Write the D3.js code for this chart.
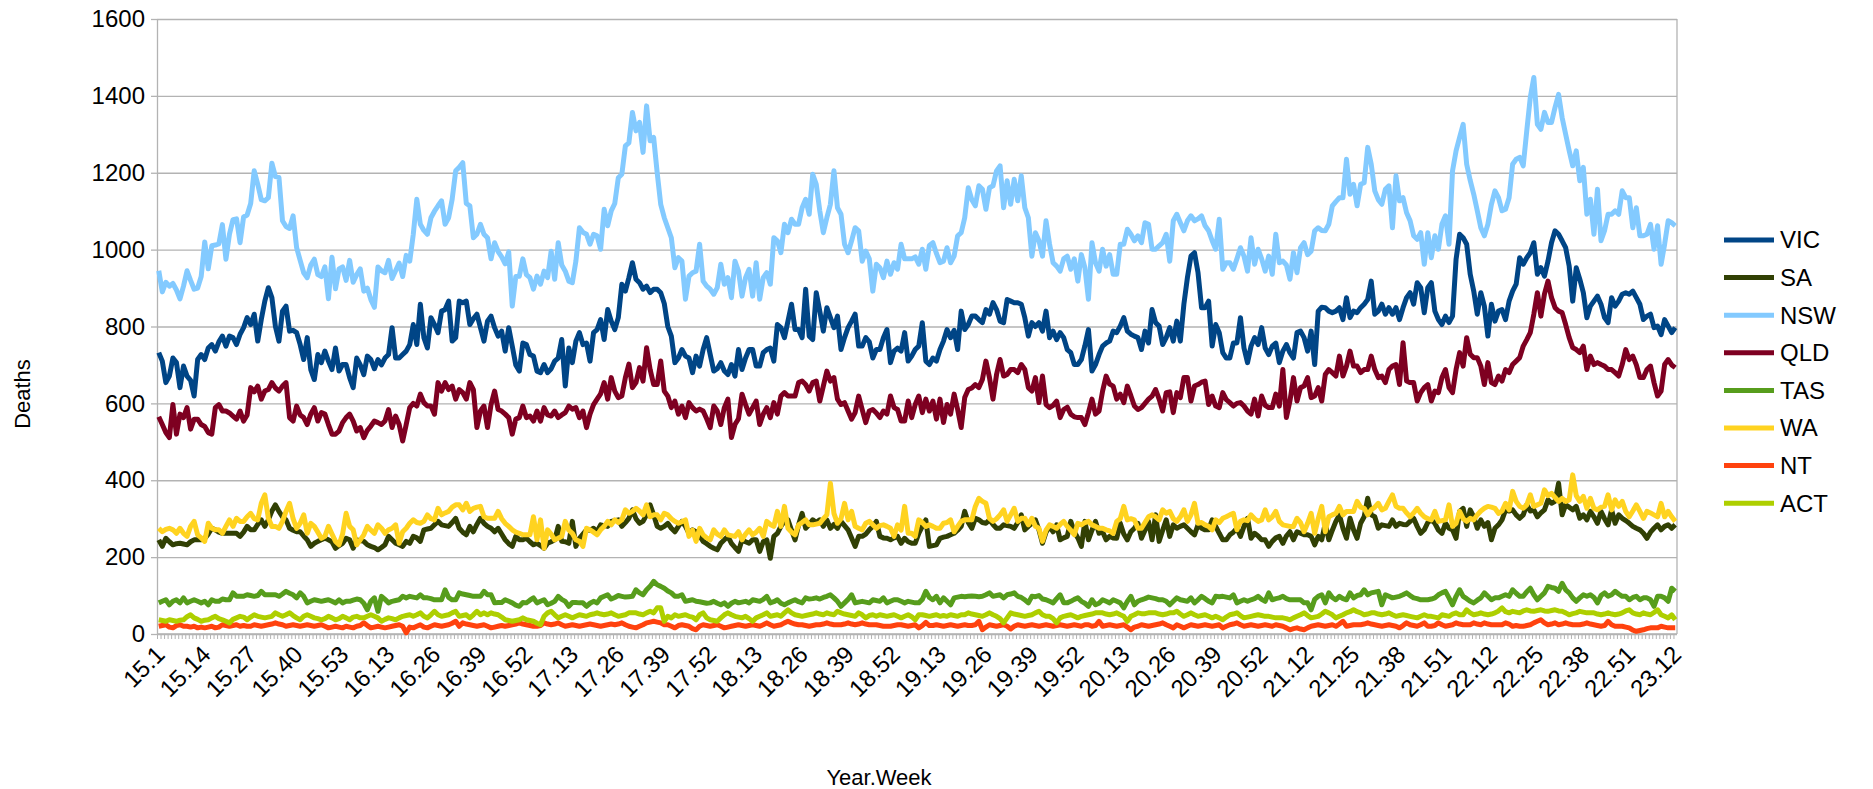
<!DOCTYPE html>
<html>
<head>
<meta charset="utf-8">
<script src="https://cdnjs.cloudflare.com/ajax/libs/d3/7.8.5/d3.min.js"></script>
<style>
  html, body { margin: 0; padding: 0; background: #fff; }
  svg { display: block; font-family: "Liberation Sans", Arial, sans-serif; }
</style>
</head>
<body>
<div id="chart"></div>
<script>
"use strict";
// categories: year prefix and number of weeks in each year
const years = [15, 16, 17, 18, 19, 20, 21, 22, 23];
const weeksInYear = [53, 52, 52, 52, 52, 53, 52, 52, 12];
const yTicks = [0, 200, 400, 600, 800, 1000, 1200, 1400, 1600];
const seriesNames = ["VIC", "SA", "NSW", "QLD", "TAS", "WA", "NT", "ACT"];
const seriesColors = ["#004586", "#314004", "#83caff", "#7e0021", "#579d1c", "#ffd320", "#ff420e", "#aecf00"];

const vic = [
  732, 710, 654, 671, 718, 706, 641, 697, 671, 660, 619, 714, 727, 714, 744, 753, 736, 760, 775, 749, 775, 771, 753, 780, 797, 823, 805, 832, 762, 818, 866, 901, 875, 800, 762, 840, 853, 788, 790, 784, 753, 714, 771, 688, 662, 727, 706, 736, 710, 688, 744, 684, 701,
  701, 667, 641, 718, 700, 675, 723, 714, 690, 714, 700, 718, 727, 797, 718, 718, 727, 736, 753, 805, 753, 858, 771, 744, 823, 805, 784, 840, 844, 866, 762, 771, 866, 862, 866, 805, 820, 832, 797, 762, 814, 827, 797, 775, 788, 736, 797, 749, 700, 684, 757, 753,
  727, 723, 684, 680, 701, 680, 690, 710, 718, 766, 645, 744, 706, 762, 784, 753, 757, 710, 784, 792, 818, 766, 844, 814, 792, 823, 910, 892, 927, 966, 923, 914, 897, 905, 888, 897, 897, 888, 860, 800, 775, 706, 718, 740, 723, 718, 680, 723, 697, 740, 771, 727,
  684, 690, 706, 684, 675, 701, 671, 740, 688, 718, 740, 740, 697, 697, 732, 740, 744, 710, 805, 797, 771, 814, 858, 792, 792, 771, 897, 775, 766, 888, 840, 788, 849, 823, 797, 827, 740, 771, 797, 814, 832, 749, 749, 771, 760, 718, 740, 740, 771, 792, 706, 736,
  744, 736, 784, 710, 723, 740, 749, 810, 710, 701, 718, 710, 740, 762, 792, 771, 790, 740, 840, 792, 805, 827, 827, 818, 810, 844, 832, 862, 844, 814, 810, 870, 866, 862, 862, 858, 823, 775, 810, 800, 810, 788, 840, 771, 788, 766, 784, 771, 740, 732, 701, 701,
  714, 750, 792, 684, 701, 727, 749, 757, 762, 788, 784, 801, 823, 788, 780, 775, 771, 740, 788, 757, 844, 810, 801, 753, 771, 797, 762, 814, 762, 858, 927, 983, 992, 940, 849, 849, 866, 749, 805, 784, 732, 718, 718, 757, 757, 823, 744, 706, 749, 771, 753, 797, 744,
  727, 749, 757, 706, 736, 753, 732, 718, 784, 788, 771, 736, 788, 701, 840, 850, 849, 840, 836, 840, 849, 818, 875, 823, 840, 836, 849, 858, 870, 918, 832, 840, 858, 832, 849, 832, 849, 818, 849, 875, 888, 858, 914, 901, 836, 901, 914, 840, 818, 805, 827, 810,
  827, 975, 1040, 1031, 1014, 936, 892, 832, 888, 853, 775, 858, 814, 840, 844, 818, 866, 892, 910, 979, 962, 979, 992, 1018, 936, 953, 931, 970, 1018, 1049, 1040, 1023, 1005, 957, 866, 953, 923, 888, 823, 853, 866, 879, 858, 823, 810, 875, 853, 866, 884, 888, 884, 892,
  875, 858, 818, 827, 832, 797, 801, 779, 818, 801, 784, 797
];

const sa = [
  245, 228, 249, 240, 232, 235, 236, 234, 232, 240, 245, 245, 245, 249, 260, 275, 271, 265, 262, 262, 262, 262, 262, 254, 265, 280, 271, 271, 285, 297, 280, 297, 320, 336, 319, 305, 297, 275, 270, 266, 266, 255, 245, 228, 236, 241, 245, 249, 245, 240, 223, 230, 236,
  249, 245, 223, 245, 243, 241, 232, 228, 225, 219, 225, 232, 254, 245, 236, 232, 228, 241, 236, 254, 250, 241, 271, 273, 275, 284, 293, 284, 282, 280, 290, 301, 275, 265, 258, 280, 266, 285, 301, 288, 280, 275, 266, 275, 260, 245, 235, 228, 254, 245, 245, 249,
  240, 232, 236, 230, 223, 236, 240, 245, 280, 241, 240, 236, 293, 228, 249, 260, 271, 270, 275, 266, 284, 282, 280, 293, 295, 297, 280, 290, 301, 323, 300, 288, 293, 310, 336, 310, 280, 275, 280, 288, 275, 266, 280, 293, 280, 262, 271, 266, 255, 241, 235, 228,
  223, 219, 236, 245, 254, 236, 225, 215, 245, 240, 236, 245, 245, 215, 240, 245, 197, 254, 262, 280, 293, 297, 270, 245, 284, 314, 275, 285, 297, 290, 297, 280, 297, 275, 285, 275, 293, 282, 271, 250, 228, 254, 254, 260, 271, 280, 293, 254, 250, 249, 245, 250,
  254, 236, 249, 240, 236, 236, 262, 280, 297, 228, 230, 232, 249, 252, 254, 258, 262, 270, 280, 319, 290, 275, 301, 297, 290, 288, 297, 285, 275, 275, 284, 282, 280, 275, 290, 310, 271, 280, 288, 297, 271, 236, 265, 280, 266, 284, 245, 250, 254, 293, 266, 250,
  228, 293, 245, 270, 293, 262, 266, 245, 254, 250, 249, 288, 260, 245, 266, 275, 288, 249, 270, 293, 245, 310, 241, 270, 297, 254, 284, 275, 280, 284, 275, 266, 258, 284, 275, 271, 271, 297, 280, 262, 245, 245, 258, 265, 275, 254, 280, 301, 249, 262, 255, 245, 245,
  228, 241, 250, 254, 236, 255, 266, 245, 266, 262, 258, 258, 254, 232, 254, 245, 288, 245, 270, 293, 310, 275, 249, 301, 271, 249, 288, 305, 353, 310, 305, 275, 284, 282, 280, 297, 280, 288, 285, 284, 293, 301, 280, 262, 271, 290, 297, 288, 270, 262, 288, 275,
  271, 249, 319, 327, 280, 323, 305, 275, 297, 280, 290, 245, 275, 284, 297, 323, 320, 323, 310, 301, 310, 336, 320, 323, 305, 315, 323, 349, 340, 345, 392, 310, 336, 330, 323, 332, 301, 310, 297, 319, 305, 288, 319, 300, 284, 323, 288, 310, 301, 295, 288, 280,
  275, 271, 262, 249, 265, 275, 284, 271, 280, 284, 275, 284
];

const nsw = [
  945, 890, 915, 905, 912, 895, 872, 905, 945, 920, 897, 900, 930, 1020, 950, 1010, 1012, 1015, 1065, 975, 1040, 1078, 1080, 1018, 1085, 1090, 1120, 1205, 1170, 1130, 1127, 1135, 1225, 1190, 1188, 1075, 1060, 1055, 1088, 1005, 972, 940, 927, 960, 975, 935, 930, 955, 872, 980, 898, 950, 955,
  920, 972, 915, 935, 950, 892, 900, 870, 850, 955, 945, 940, 972, 925, 945, 965, 930, 985, 970, 1040, 1131, 1066, 1050, 1040, 1083, 1100, 1114, 1127, 1066, 1083, 1131, 1205, 1214, 1226, 1120, 1114, 1031, 1040, 1066, 1040, 1031, 976, 1018, 995, 981, 963, 994, 853, 930, 931, 976, 935,
  927, 897, 931, 910, 944, 927, 996, 923, 1018, 960, 944, 918, 914, 970, 1057, 1045, 1040, 1014, 1040, 1036, 1001, 1105, 1062, 1101, 1120, 1187, 1196, 1270, 1278, 1357, 1309, 1331, 1253, 1374, 1283, 1292, 1200, 1118, 1083, 1057, 1031, 953, 979, 970, 871, 931, 940, 944, 1014, 918, 905, 897,
  884, 901, 962, 910, 927, 875, 970, 944, 879, 927, 949, 879, 966, 871, 927, 940, 910, 1031, 1023, 992, 1066, 1044, 1079, 1066, 1066, 1109, 1131, 1092, 1196, 1170, 1101, 1044, 1083, 1118, 1205, 1109, 1092, 1014, 992, 1023, 1057, 1049, 970, 996, 976, 892, 962, 953, 927, 970, 936, 966,
  949, 1014, 976, 976, 976, 981, 962, 1001, 949, 1011, 1018, 990, 966, 970, 1005, 966, 983, 1036, 1044, 1083, 1161, 1130, 1114, 1166, 1157, 1105, 1161, 1166, 1205, 1218, 1109, 1179, 1118, 1183, 1127, 1192, 1109, 1083, 983, 1044, 1023, 983, 1075, 1014, 966, 957, 944, 976, 983, 949, 976, 918,
  987, 953, 871, 1018, 966, 944, 1001, 957, 987, 936, 936, 1014, 1014, 1053, 1040, 1023, 1036, 1018, 1070, 1066, 1001, 1001, 1010, 1018, 1040, 970, 1075, 1092, 1070, 1049, 1075, 1088, 1075, 1080, 1088, 1062, 1049, 1023, 1001, 1079, 949, 966, 966, 949, 976, 1005, 983, 944, 1031, 962, 1001, 976, 944,
  983, 936, 1040, 966, 970, 960, 923, 992, 940, 1005, 1018, 987, 996, 1049, 1057, 1050, 1049, 1066, 1114, 1125, 1135, 1135, 1235, 1144, 1170, 1114, 1170, 1174, 1266, 1222, 1153, 1130, 1118, 1157, 1166, 1057, 1192, 1127, 1135, 1096, 1075, 1036, 1027, 1044, 962, 1044, 979, 1036, 1001, 1066, 1088, 1014,
  1205, 1257, 1292, 1326, 1222, 1180, 1144, 1101, 1057, 1036, 1066, 1118, 1153, 1135, 1101, 1105, 1135, 1222, 1235, 1240, 1218, 1309, 1396, 1448, 1326, 1313, 1357, 1331, 1331, 1370, 1404, 1344, 1300, 1257, 1218, 1257, 1179, 1214, 1092, 1131, 1040, 1157, 1023, 1049, 1092, 1092, 1101, 1092, 1153, 1135, 1135, 1057,
  1109, 1036, 1036, 1040, 1066, 1001, 1062, 962, 1014, 1075, 1070, 1062
];

const qld = [
  565, 545, 524, 511, 597, 520, 572, 563, 589, 533, 559, 559, 545, 540, 524, 520, 589, 597, 580, 580, 575, 567, 559, 580, 554, 570, 641, 630, 645, 611, 632, 636, 654, 640, 632, 645, 654, 563, 554, 593, 570, 563, 545, 572, 589, 554, 576, 572, 545, 520, 520, 528, 550,
  563, 572, 554, 528, 537, 511, 530, 541, 554, 550, 545, 554, 584, 537, 567, 545, 502, 545, 589, 600, 593, 624, 602, 593, 593, 572, 654, 632, 654, 636, 645, 611, 636, 628, 611, 654, 636, 537, 580, 593, 537, 597, 632, 584, 580, 572, 563, 520, 559, 563, 593, 563,
  567, 554, 580, 554, 589, 570, 567, 580, 563, 570, 576, 593, 585, 589, 563, 580, 537, 572, 597, 611, 625, 654, 611, 667, 632, 615, 619, 667, 702, 641, 654, 693, 658, 745, 688, 649, 649, 710, 632, 619, 589, 606, 572, 593, 563, 602, 589, 580, 585, 580, 560, 537,
  593, 580, 545, 589, 611, 511, 545, 560, 624, 597, 572, 589, 606, 545, 572, 589, 563, 602, 572, 619, 628, 619, 619, 619, 654, 658, 649, 632, 654, 658, 606, 645, 684, 658, 667, 611, 597, 602, 580, 559, 576, 619, 584, 550, 580, 584, 575, 563, 580, 572, 619, 589,
  584, 554, 554, 606, 563, 597, 619, 576, 611, 580, 606, 559, 611, 550, 597, 572, 624, 584, 537, 615, 636, 640, 649, 641, 662, 710, 667, 611, 675, 714, 671, 675, 688, 688, 680, 701, 688, 641, 632, 667, 602, 671, 597, 589, 595, 606, 563, 584, 590, 572, 565, 563,
  563, 545, 576, 611, 572, 580, 632, 671, 650, 645, 611, 624, 602, 645, 620, 593, 584, 589, 600, 611, 619, 636, 611, 580, 628, 630, 576, 628, 615, 667, 667, 606, 645, 649, 655, 658, 597, 619, 593, 589, 628, 610, 602, 593, 600, 602, 593, 580, 572, 611, 567, 619, 595,
  589, 589, 624, 593, 688, 563, 606, 667, 606, 641, 645, 667, 615, 619, 641, 606, 675, 688, 680, 671, 723, 671, 697, 736, 697, 697, 680, 688, 688, 723, 688, 667, 671, 654, 688, 697, 701, 649, 758, 658, 654, 654, 606, 628, 641, 649, 606, 632, 628, 667, 688, 641,
  628, 688, 732, 697, 771, 728, 719, 719, 697, 649, 706, 654, 649, 671, 658, 688, 680, 701, 710, 719, 749, 766, 784, 832, 888, 827, 884, 918, 875, 849, 840, 836, 805, 771, 745, 740, 732, 749, 688, 723, 701, 706, 701, 697, 688, 688, 680, 671, 701, 740, 714, 723,
  700, 667, 667, 688, 697, 654, 619, 632, 701, 714, 700, 693
];

const tas = [
  81, 85, 89, 76, 85, 89, 81, 94, 81, 85, 89, 85, 81, 85, 76, 89, 85, 85, 91, 89, 89, 107, 98, 98, 98, 102, 100, 98, 100, 111, 102, 102, 102, 102, 98, 104, 111, 106, 102, 94, 107, 98, 81, 85, 89, 87, 85, 87, 89, 85, 81, 89, 81,
  85, 85, 88, 91, 89, 80, 63, 85, 94, 59, 98, 90, 81, 85, 87, 89, 98, 94, 98, 96, 94, 102, 94, 94, 92, 89, 89, 89, 115, 95, 89, 89, 107, 104, 102, 100, 98, 98, 98, 111, 102, 102, 81, 82, 82, 89, 85, 81, 75, 72, 82, 81,
  88, 94, 81, 85, 89, 76, 80, 85, 98, 90, 85, 72, 82, 82, 81, 81, 72, 80, 85, 81, 94, 98, 102, 91, 95, 100, 98, 96, 97, 98, 115, 107, 102, 115, 124, 137, 128, 124, 119, 112, 107, 98, 98, 102, 85, 87, 89, 85, 84, 82, 80, 81,
  85, 80, 76, 81, 72, 80, 85, 81, 83, 85, 81, 89, 87, 85, 90, 98, 81, 84, 89, 80, 76, 81, 85, 89, 84, 81, 94, 91, 92, 94, 91, 95, 98, 102, 94, 85, 72, 81, 90, 102, 81, 83, 85, 83, 81, 89, 87, 85, 94, 81, 85, 89,
  89, 85, 81, 85, 83, 81, 81, 90, 111, 95, 89, 98, 81, 94, 85, 76, 94, 96, 98, 97, 98, 99, 98, 97, 98, 102, 107, 98, 100, 102, 94, 102, 104, 107, 98, 95, 89, 81, 98, 97, 100, 91, 89, 85, 81, 92, 102, 81, 81, 85, 90, 94,
  85, 80, 72, 89, 76, 80, 89, 85, 81, 89, 85, 81, 68, 85, 98, 76, 85, 89, 92, 96, 94, 92, 89, 89, 85, 76, 85, 94, 89, 87, 85, 94, 81, 89, 98, 92, 85, 81, 98, 97, 98, 96, 94, 102, 81, 85, 89, 85, 89, 92, 98, 90, 85,
  107, 89, 92, 94, 98, 92, 89, 89, 89, 89, 81, 81, 63, 90, 98, 102, 81, 107, 95, 89, 98, 92, 89, 107, 94, 100, 102, 115, 102, 107, 109, 111, 76, 102, 98, 94, 96, 98, 102, 107, 100, 94, 92, 89, 89, 89, 91, 94, 102, 107, 111, 94,
  76, 98, 115, 98, 92, 85, 81, 88, 94, 107, 98, 89, 94, 94, 98, 102, 98, 115, 106, 98, 98, 110, 119, 102, 89, 98, 107, 124, 121, 119, 111, 132, 115, 107, 94, 85, 94, 102, 98, 102, 95, 81, 100, 107, 98, 102, 111, 104, 98, 98, 89, 95,
  98, 89, 94, 94, 89, 72, 98, 98, 94, 85, 119, 111
];

const wa = [
  275, 266, 272, 275, 271, 262, 275, 262, 254, 280, 293, 258, 250, 241, 288, 275, 271, 271, 262, 280, 297, 280, 301, 293, 293, 305, 314, 300, 297, 340, 362, 301, 280, 280, 275, 293, 319, 340, 300, 275, 288, 310, 262, 288, 280, 265, 249, 254, 280, 260, 241, 232, 260,
  314, 280, 271, 232, 245, 258, 280, 270, 262, 284, 275, 262, 271, 275, 284, 236, 266, 275, 288, 297, 290, 288, 293, 310, 300, 297, 327, 310, 315, 319, 330, 336, 336, 323, 340, 319, 327, 330, 332, 305, 301, 301, 301, 319, 300, 288, 280, 271, 265, 262, 258, 258,
  258, 305, 245, 297, 223, 271, 260, 245, 249, 254, 293, 270, 262, 245, 241, 228, 275, 271, 265, 258, 271, 280, 293, 284, 297, 290, 297, 323, 314, 319, 327, 320, 310, 336, 305, 310, 310, 297, 314, 310, 300, 293, 288, 292, 297, 254, 270, 241, 275, 258, 250, 245,
  271, 260, 254, 271, 258, 256, 254, 266, 245, 260, 271, 258, 265, 275, 254, 293, 285, 280, 319, 280, 332, 275, 265, 258, 284, 290, 297, 284, 284, 286, 288, 300, 310, 392, 314, 288, 300, 340, 297, 319, 280, 275, 271, 288, 293, 284, 275, 282, 284, 280, 275, 254,
  284, 270, 332, 262, 262, 254, 297, 290, 280, 284, 280, 275, 275, 288, 290, 297, 266, 280, 293, 297, 297, 297, 332, 353, 345, 340, 301, 293, 300, 310, 323, 293, 310, 327, 293, 301, 301, 284, 301, 280, 275, 241, 270, 284, 280, 275, 285, 293, 280, 270, 258, 288,
  284, 290, 293, 284, 280, 275, 275, 271, 268, 262, 293, 300, 332, 297, 300, 297, 275, 275, 290, 305, 310, 305, 297, 323, 314, 319, 300, 293, 305, 323, 293, 310, 340, 288, 290, 284, 280, 271, 297, 290, 301, 305, 310, 314, 271, 293, 297, 295, 310, 300, 293, 297, 323,
  297, 305, 319, 293, 284, 282, 280, 280, 301, 290, 266, 288, 314, 262, 300, 332, 266, 305, 310, 314, 332, 310, 319, 319, 319, 345, 330, 327, 310, 323, 330, 340, 323, 327, 345, 362, 332, 327, 327, 315, 305, 315, 327, 314, 305, 300, 297, 319, 293, 295, 297, 336,
  280, 288, 319, 300, 293, 301, 297, 310, 320, 327, 332, 330, 327, 314, 320, 340, 323, 371, 345, 332, 327, 336, 362, 332, 336, 340, 375, 360, 366, 355, 345, 353, 345, 349, 414, 360, 345, 358, 327, 353, 327, 323, 330, 332, 362, 323, 349, 332, 345, 319, 305, 320,
  336, 319, 301, 319, 315, 310, 305, 340, 305, 319, 305, 293
];

const nt = [
  20, 22, 24, 18, 16, 22, 24, 20, 20, 18, 20, 16, 18, 16, 18, 20, 16, 18, 24, 22, 20, 22, 24, 20, 22, 20, 20, 24, 22, 20, 22, 24, 26, 29, 26, 24, 20, 22, 24, 22, 20, 22, 24, 22, 20, 22, 24, 20, 16, 18, 20, 18, 16,
  20, 18, 16, 20, 22, 29, 22, 16, 18, 20, 18, 16, 18, 20, 22, 24, 20, 3, 18, 16, 20, 24, 18, 16, 20, 24, 22, 20, 22, 24, 28, 33, 20, 29, 26, 24, 22, 20, 22, 24, 20, 16, 18, 20, 22, 20, 22, 24, 26, 29, 26, 24,
  22, 20, 20, 22, 29, 26, 24, 26, 29, 24, 20, 22, 24, 22, 20, 22, 24, 26, 24, 22, 20, 22, 24, 26, 24, 26, 29, 24, 20, 18, 16, 20, 24, 29, 31, 33, 31, 29, 24, 24, 20, 16, 22, 24, 22, 20, 14, 11, 20, 24, 22, 20,
  22, 24, 20, 16, 18, 20, 22, 24, 22, 20, 22, 24, 22, 20, 24, 29, 24, 20, 22, 24, 29, 33, 29, 26, 24, 24, 22, 20, 22, 24, 24, 26, 29, 26, 24, 24, 24, 26, 29, 26, 24, 26, 29, 26, 24, 24, 24, 22, 20, 20, 20, 22,
  24, 24, 22, 20, 22, 24, 16, 22, 30, 22, 22, 24, 22, 20, 22, 24, 22, 20, 22, 24, 22, 22, 24, 33, 11, 18, 24, 22, 20, 22, 24, 20, 13, 20, 24, 22, 20, 22, 24, 22, 20, 22, 24, 22, 20, 22, 24, 22, 20, 22, 24, 22,
  20, 24, 24, 20, 22, 33, 20, 22, 24, 22, 20, 22, 24, 18, 11, 18, 20, 24, 22, 20, 22, 24, 26, 29, 24, 20, 16, 24, 20, 16, 20, 24, 22, 20, 22, 24, 22, 20, 22, 24, 16, 20, 24, 26, 29, 24, 20, 22, 24, 22, 20, 22, 24,
  22, 20, 24, 22, 20, 16, 11, 14, 16, 13, 11, 16, 20, 22, 24, 22, 20, 22, 24, 20, 26, 33, 20, 22, 24, 24, 24, 26, 29, 26, 24, 22, 20, 22, 24, 22, 20, 16, 22, 29, 24, 22, 20, 24, 29, 20, 20, 22, 29, 24, 20, 22,
  24, 29, 26, 24, 24, 24, 29, 26, 24, 29, 26, 24, 24, 24, 24, 29, 26, 20, 22, 20, 20, 22, 24, 29, 33, 37, 29, 24, 26, 29, 24, 26, 29, 26, 24, 24, 24, 26, 29, 26, 24, 22, 20, 22, 33, 24, 20, 20, 20, 18, 16, 10,
  7, 9, 11, 14, 16, 16, 16, 20, 18, 16, 16, 16
];

const act = [
  37, 35, 33, 37, 35, 33, 36, 37, 45, 50, 42, 38, 33, 36, 37, 42, 46, 40, 37, 33, 29, 38, 42, 46, 44, 37, 44, 50, 46, 44, 42, 44, 46, 55, 50, 46, 50, 55, 48, 42, 37, 46, 50, 46, 42, 40, 37, 40, 46, 42, 37, 40, 46,
  42, 37, 44, 46, 42, 42, 46, 50, 46, 42, 33, 38, 42, 40, 37, 42, 46, 48, 50, 46, 50, 55, 46, 42, 50, 59, 50, 46, 48, 50, 55, 59, 46, 48, 50, 42, 50, 59, 50, 55, 50, 55, 52, 50, 44, 37, 35, 33, 35, 37, 42, 37,
  35, 33, 28, 24, 46, 55, 59, 50, 42, 46, 50, 46, 42, 46, 50, 48, 46, 50, 52, 55, 52, 50, 52, 55, 50, 46, 48, 50, 55, 55, 55, 52, 50, 55, 59, 55, 68, 68, 33, 46, 42, 50, 46, 48, 50, 46, 44, 37, 50, 55, 42, 37,
  35, 33, 42, 50, 55, 50, 46, 44, 42, 46, 40, 33, 42, 46, 50, 55, 46, 48, 50, 46, 55, 63, 55, 50, 48, 46, 48, 50, 52, 55, 52, 50, 55, 52, 50, 59, 55, 52, 50, 48, 46, 55, 50, 42, 48, 50, 46, 50, 48, 46, 48, 50,
  46, 42, 46, 50, 45, 37, 50, 50, 48, 46, 48, 50, 46, 48, 46, 50, 48, 46, 50, 50, 55, 52, 50, 48, 46, 50, 55, 50, 46, 40, 29, 42, 55, 52, 50, 48, 46, 48, 50, 55, 59, 50, 46, 46, 40, 29, 42, 46, 48, 50, 46, 42,
  46, 48, 50, 52, 55, 55, 55, 52, 50, 52, 55, 50, 46, 33, 46, 50, 55, 53, 53, 55, 55, 55, 52, 50, 52, 55, 55, 59, 52, 46, 50, 55, 50, 46, 48, 50, 46, 42, 46, 42, 37, 44, 50, 52, 55, 48, 42, 44, 46, 48, 50, 48, 46,
  46, 44, 42, 42, 42, 40, 37, 42, 46, 50, 55, 48, 42, 44, 46, 52, 59, 55, 50, 42, 46, 50, 55, 58, 63, 58, 55, 50, 52, 55, 55, 52, 50, 52, 55, 50, 46, 48, 50, 48, 46, 44, 42, 46, 50, 46, 46, 44, 42, 50, 48, 46,
  52, 55, 50, 50, 63, 55, 50, 52, 55, 52, 50, 52, 55, 60, 68, 58, 55, 59, 57, 55, 60, 63, 60, 59, 61, 63, 60, 59, 61, 63, 60, 59, 55, 50, 53, 55, 59, 57, 55, 55, 55, 52, 50, 52, 55, 52, 50, 52, 55, 60, 63, 55,
  52, 50, 55, 52, 50, 56, 63, 50, 46, 42, 50, 37
];

const seriesValues = [vic, sa, nsw, qld, tas, wa, nt, act];

// week labels like "15.1" ... "23.12"
const weeks = [];
years.forEach((yr, k) => {
  for (let w = 1; w <= weeksInYear[k]; w++) weeks.push(`${yr}.${w}`);
});
const labelWeeks = weeks.filter((d, i) => i % 13 === 0);

const svgWidth = 1873;
const svgHeight = 789;
const plotLeft = 157;
const plotRight = 1677;
const plotTop = 19;
const plotBottom = 634;
const gridColor = "#b3b3b3";

const svg = d3.select("#chart")
  .append("svg")
  .attr("width", svgWidth)
  .attr("height", svgHeight);

const x = d3.scalePoint()
  .domain(weeks)
  .range([plotLeft, plotRight])
  .padding(0.5);

const y = d3.scaleLinear()
  .domain([0, 1600])
  .range([plotBottom, plotTop]);

// horizontal gridlines
svg.append("g")
  .attr("transform", `translate(${plotLeft},0)`)
  .call(d3.axisLeft(y).tickValues(yTicks).tickSize(-(plotRight - plotLeft)).tickFormat(""))
  .call(g => g.select(".domain").remove())
  .call(g => g.selectAll("line").attr("stroke", gridColor).attr("stroke-width", 1.3));

// right border of the plot
svg.append("line")
  .attr("x1", plotRight).attr("x2", plotRight)
  .attr("y1", plotTop).attr("y2", plotBottom)
  .attr("stroke", gridColor).attr("stroke-width", 1.3);

// y axis with labels
svg.append("g")
  .attr("id", "y-axis")
  .attr("transform", `translate(${plotLeft},0)`)
  .call(d3.axisLeft(y).tickValues(yTicks).tickFormat(d3.format("d")).tickSize(6).tickSizeOuter(0).tickPadding(6))
  .call(g => g.select(".domain").attr("stroke", gridColor).attr("stroke-width", 1.3))
  .call(g => g.selectAll("line").attr("stroke", gridColor).attr("stroke-width", 1.3))
  .call(g => g.selectAll("text")
    .attr("fill", "#000")
    .style("font-size", "24px")
    .style("font-family", "'Liberation Sans', Arial, sans-serif"));

// x axis: one tick mark at each category boundary
svg.append("g")
  .attr("transform", `translate(${-x.step() / 2},${plotBottom})`)
  .call(d3.axisBottom(x).tickValues(weeks).tickSize(5).tickFormat(""))
  .call(g => g.select(".domain").remove())
  .call(g => g.selectAll("line").attr("stroke", gridColor).attr("stroke-width", 1));

svg.append("line")
  .attr("x1", plotLeft).attr("x2", plotRight)
  .attr("y1", plotBottom).attr("y2", plotBottom)
  .attr("stroke", gridColor).attr("stroke-width", 1.3);

// x axis labels, every 13th week, rotated
svg.append("g")
  .attr("id", "x-axis")
  .attr("transform", `translate(0,${plotBottom})`)
  .call(d3.axisBottom(x).tickValues(labelWeeks).tickSize(0))
  .call(g => g.select(".domain").remove())
  .call(g => g.selectAll("text")
    .attr("x", 0)
    .attr("y", 0)
    .attr("dy", "0.35em")
    .attr("transform", "translate(1,16) rotate(-45)")
    .attr("fill", "#000")
    .style("text-anchor", "end")
    .style("font-size", "24px")
    .style("font-family", "'Liberation Sans', Arial, sans-serif"));

// series lines
const line = d3.line()
  .x((d, i) => x(weeks[i]))
  .y(d => y(d));

svg.append("g")
  .selectAll("path")
  .data(seriesValues)
  .enter()
  .append("path")
  .attr("d", d => line(d))
  .attr("fill", "none")
  .attr("stroke", (d, i) => seriesColors[i])
  .attr("stroke-width", 5)
  .attr("stroke-linejoin", "round")
  .attr("stroke-linecap", "butt");

// axis titles
svg.append("text")
  .attr("x", 879)
  .attr("y", 785)
  .attr("text-anchor", "middle")
  .style("font-size", "22px")
  .text("Year.Week");

svg.append("text")
  .attr("transform", "translate(30,394) rotate(-90)")
  .attr("text-anchor", "middle")
  .style("font-size", "22px")
  .text("Deaths");

// legend
const legend = svg.append("g")
  .attr("id", "legend")
  .selectAll("g")
  .data(seriesNames)
  .enter()
  .append("g")
  .attr("transform", (d, i) => `translate(1724, ${240 + i * 37.6})`);

legend.append("line")
  .attr("x1", 0).attr("x2", 50)
  .attr("y1", 0).attr("y2", 0)
  .attr("stroke", (d, i) => seriesColors[i])
  .attr("stroke-width", 5);

legend.append("text")
  .attr("x", 56)
  .attr("y", 0)
  .attr("dy", "0.35em")
  .style("font-size", "24px")
  .text(d => d);
</script>
</body>
</html>
